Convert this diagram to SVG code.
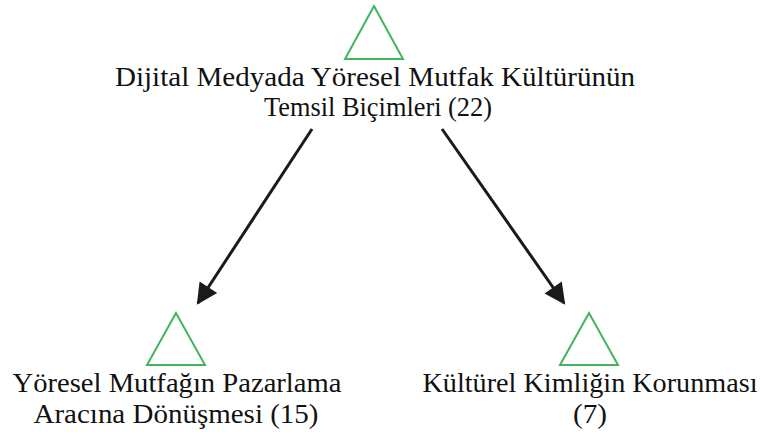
<svg xmlns="http://www.w3.org/2000/svg" width="761" height="432" viewBox="0 0 761 432">
  <style>
    .tri { fill: none; stroke: #43b45a; stroke-width: 2; }
    .lbl { font-size: 27px; fill: #111; text-anchor: middle; }
    .edge { stroke: #1a1a1a; stroke-width: 3; fill: none; marker-end: url(#head); }
  </style>
  <defs>
    <marker id="head" viewBox="0 0 10 10" refX="9" refY="5" markerUnits="userSpaceOnUse" markerWidth="25" markerHeight="21" orient="auto">
      <path d="M0,0 L10,5 L0,10 z" fill="#1a1a1a"/>
    </marker>
  </defs>
  <g id="edges">
    <line class="edge" x1="312" y1="129" x2="198" y2="303"/>
    <line class="edge" x1="442" y1="129" x2="564" y2="303"/>
  </g>
  <g id="root" font-family="Liberation Serif, Tinos, Times New Roman, serif">
    <polygon class="tri" points="374,6 345,59 403,59"/>
    <text class="lbl" x="375" y="86" textLength="520" lengthAdjust="spacingAndGlyphs">Dijital Medyada Yöresel Mutfak Kültürünün</text>
    <text class="lbl" x="378" y="116" textLength="228" lengthAdjust="spacingAndGlyphs">Temsil Biçimleri (22)</text>
  </g>
  <g id="marketing" font-family="Liberation Serif, Tinos, Times New Roman, serif">
    <polygon class="tri" points="176,313 147,365 205,365"/>
    <text class="lbl" x="177" y="392" textLength="329" lengthAdjust="spacingAndGlyphs">Yöresel Mutfağın Pazarlama</text>
    <text class="lbl" x="176" y="423" textLength="285" lengthAdjust="spacingAndGlyphs">Aracına Dönüşmesi (15)</text>
  </g>
  <g id="identity" font-family="Liberation Serif, Tinos, Times New Roman, serif">
    <polygon class="tri" points="589,313 560,365 618,365"/>
    <text class="lbl" x="590" y="392" textLength="335" lengthAdjust="spacingAndGlyphs">Kültürel Kimliğin Korunması</text>
    <text class="lbl" x="590" y="423" textLength="34" lengthAdjust="spacingAndGlyphs">(7)</text>
  </g>
</svg>
